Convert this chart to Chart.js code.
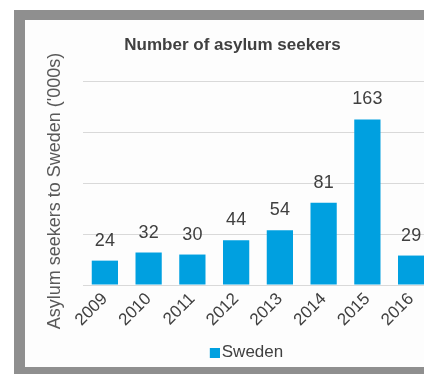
<!DOCTYPE html>
<html>
<head>
<meta charset="utf-8">
<script src="https://cdn.jsdelivr.net/npm/chart.js@4"></script>
<style>
  html, body { margin: 0; padding: 0; background: #ffffff; overflow: hidden; width: 424px; height: 374px; }
  #frame { position: absolute; left: 14px; top: 10px; width: 500px; height: 400px; background: #8f8f8f; }
  #box { position: absolute; left: 25px; top: 20px; width: 416px; height: 347px; background: #fdfdfd; }
  #c { position: absolute; left: 0; top: 0; }
</style>
</head>
<body>
<div id="frame"></div>
<div id="box"><canvas id="c" width="416" height="351"></canvas></div>
<script>
const categories = ["2009", "2010", "2011", "2012", "2013", "2014", "2015", "2016"];
const swedenValues = [24, 32, 30, 44, 54, 81, 163, 29];
const seriesName = "Sweden";
const chartTitle = "Number of asylum seekers";
const yAxisTitle = "Asylum seekers to Sweden ('000s)   ";
const yTickValues = [0, 50, 100, 150, 200];

const FONT = "'Liberation Sans', Arial, sans-serif";
const BAR_COLOR = '#00a0e0';

// legend marker: 15x10 image with the 10x10 square on its right part
const marker = document.createElement('canvas');
marker.width = 15; marker.height = 10;
(function () { const m = marker.getContext('2d'); m.fillStyle = BAR_COLOR; m.fillRect(5, 0, 10, 10); })();

const valueLabels = {
  id: 'valueLabels',
  afterDatasetsDraw(chart) {
    const ctx = chart.ctx;
    const meta = chart.getDatasetMeta(0);
    ctx.save();
    ctx.font = "18px " + FONT;
    ctx.fillStyle = "#404040";
    ctx.textAlign = "center";
    ctx.textBaseline = "alphabetic";
    meta.data.forEach((bar, i) => {
      ctx.fillText(String(chart.data.datasets[0].data[i]), bar.x, bar.y - 15);
    });
    ctx.restore();
  }
};

const shiftBlocks = {
  id: 'shiftBlocks',
  afterLayout(chart) {
    if (chart.legend) { chart.legend.left += 18.25; chart.legend.right += 18.25; }
    if (chart.titleBlock) { chart.titleBlock.left += 3.5; chart.titleBlock.right += 3.5; }
  }
};

new Chart(document.getElementById('c'), {
  type: 'bar',
  data: {
    labels: categories,
    datasets: [{
      label: seriesName,
      data: swedenValues,
      backgroundColor: BAR_COLOR,
      borderWidth: 0,
      categoryPercentage: 1.0,
      barPercentage: 0.6,
      pointStyle: marker
    }]
  },
  options: {
    responsive: false,
    animation: false,
    devicePixelRatio: 1,
    layout: { padding: { left: 0, right: 8, top: 0, bottom: 0 } },
    plugins: {
      title: {
        display: true,
        text: chartTitle,
        color: '#404040',
        font: { family: FONT, size: 17, weight: 'bold' },
        padding: { top: 15.5, bottom: 26 }
      },
      legend: {
        display: true,
        position: 'bottom',
        labels: {
          color: '#404040',
          font: { family: FONT, size: 17 },
          usePointStyle: true,
          pointStyleWidth: 2,
          boxHeight: 10,
          padding: 6
        }
      },
      tooltip: { enabled: false }
    },
    scales: {
      x: {
        grid: { display: false, drawTicks: false, tickLength: 0 },
        border: { display: false },
        ticks: {
          color: '#404040',
          font: { family: FONT, size: 17 },
          minRotation: 45,
          maxRotation: 45,
          padding: 4
        },
        afterFit(scale) { scale.height = 53; }
      },
      y: {
        min: 0,
        max: 200,
        afterBuildTicks(scale) { scale.ticks = yTickValues.map(v => ({ value: v })); },
        grid: { color: '#d9d9d9', lineWidth: 1, drawTicks: false },
        border: { display: false },
        ticks: { display: false },
        title: {
          display: true,
          text: yAxisTitle,
          color: '#595959',
          font: { family: FONT, size: 18 },
          padding: { top: 19, bottom: 0 }
        },
        afterFit(scale) { scale.width = 58; }
      }
    }
  },
  plugins: [valueLabels, shiftBlocks]
});
</script>
</body>
</html>
